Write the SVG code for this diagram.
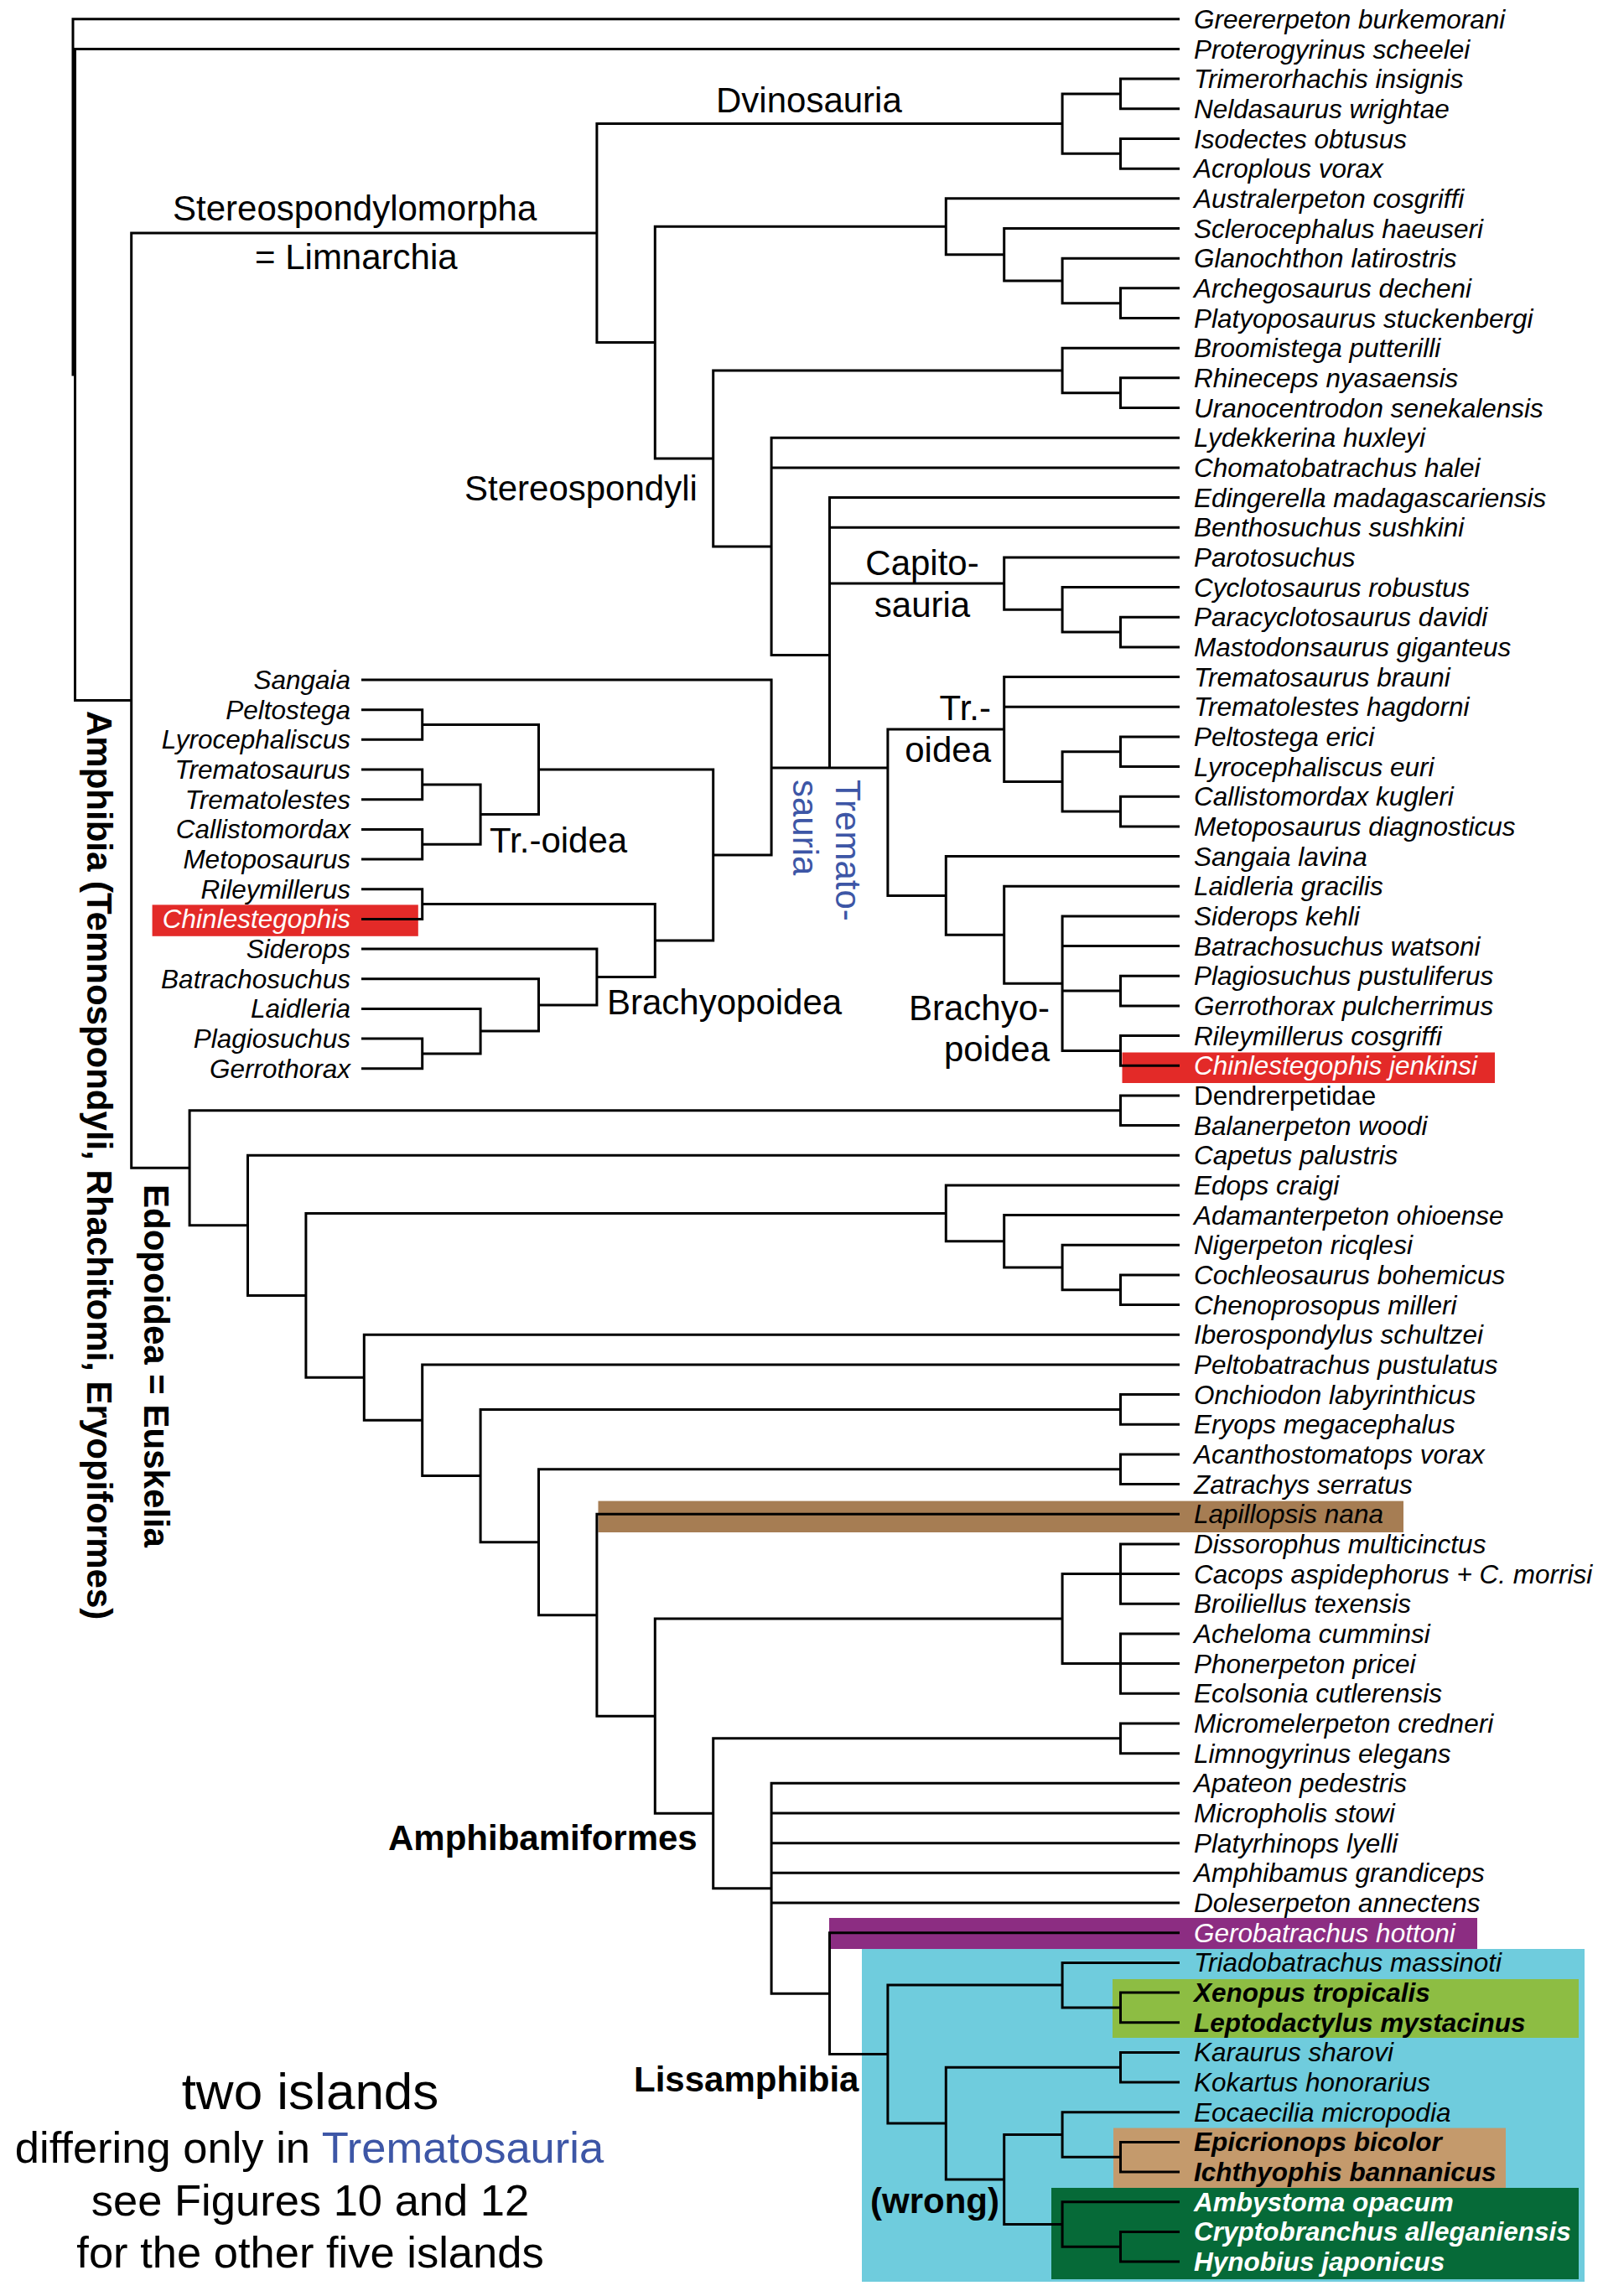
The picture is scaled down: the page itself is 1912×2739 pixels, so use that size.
<svg xmlns="http://www.w3.org/2000/svg" width="1912" height="2739" viewBox="0 0 1912 2739">
<style>
.ln{fill:none;stroke:#000;stroke-width:3;stroke-linejoin:miter;stroke-linecap:butt}
.tx{font-family:"Liberation Sans",Arial,sans-serif;font-size:31.5px;font-style:italic;fill:#000}
.ix{font-family:"Liberation Sans",Arial,sans-serif;font-size:31.5px;font-style:italic;fill:#000;text-anchor:end}
.up{font-style:normal}
.bi{font-weight:bold}
.wt{fill:#fff}
.cl{font-family:"Liberation Sans",Arial,sans-serif;font-size:42px;fill:#000}
.bd{font-weight:bold}
.blue{fill:#3D56A6}
.end{text-anchor:end}
.mid{text-anchor:middle}
.cap{font-family:"Liberation Sans",Arial,sans-serif;font-size:52.5px;fill:#000;text-anchor:middle}
</style>
<rect width="1912" height="2739" fill="#fff"/>
<g id="highlights">
<rect x="1028" y="2325" width="862" height="397" fill="#6FCCDD"/>
<rect x="1327" y="2361" width="556" height="70" fill="#8DBD43"/>
<rect x="1328" y="2538.6" width="468" height="72.4" fill="#C49A6C"/>
<rect x="1254" y="2610" width="629" height="109" fill="#066A38"/>
<rect x="989" y="2288" width="773" height="37" fill="#8C2D82"/>
<rect x="1338.5" y="1255.5" width="444.5" height="36.5" fill="#E32A28"/>
<rect x="181.6" y="1079.4" width="317.2" height="37.4" fill="#E32A28"/>
<rect x="713.5" y="1790.6" width="960.5" height="37.4" fill="#A67D53"/>
</g>
<g id="connectors" class="ln">
<path d="M1407,22.8 H87 V447 H89.5"/>
<path d="M1407,58.5 H89.5 V835.6 H156.7"/>
<path d="M711.9,278.1 H156.7 V1393.3 H226.1"/>
<path d="M1267.1,147.6 H711.9 V408.6 H781.3"/>
<path d="M1336.5,112 H1267.1 V183.3 H1336.5"/>
<path d="M1407,94.1 H1336.5 V129.8 H1407"/>
<path d="M1407,165.5 H1336.5 V201.2 H1407"/>
<path d="M1128.3,270.3 H781.3 V546.9 H850.7"/>
<path d="M1407,236.8 H1128.3 V303.7 H1197.7"/>
<path d="M1407,272.5 H1197.7 V334.9 H1267.1"/>
<path d="M1407,308.2 H1267.1 V361.7 H1336.5"/>
<path d="M1407,343.8 H1336.5 V379.5 H1407"/>
<path d="M1267.1,441.9 H850.7 V651.9 H920.1"/>
<path d="M1407,415.2 H1267.1 V468.7 H1336.5"/>
<path d="M1407,450.8 H1336.5 V486.5 H1407"/>
<path d="M1407,522.2 H920.1 V781.5 H989.5 M920.1,557.9 H1407"/>
<path d="M1407,593.5 H989.5 V916 M989.5,629.2 H1407 M989.5,696.1 H1197.7"/>
<path d="M1407,664.9 H1197.7 V727.3 H1267.1"/>
<path d="M1407,700.5 H1267.1 V754 H1336.5"/>
<path d="M1407,736.2 H1336.5 V771.9 H1407"/>
<path d="M920.1,916 H1058.9"/>
<path d="M1197.7,870 H1058.9 V1068.4 H1128.3"/>
<path d="M1407,807.5 H1197.7 V932.4 H1267.1 M1197.7,843.2 H1407"/>
<path d="M1336.5,896.7 H1267.1 V968.1 H1336.5"/>
<path d="M1407,878.9 H1336.5 V914.6 H1407"/>
<path d="M1407,950.2 H1336.5 V985.9 H1407"/>
<path d="M1407,1021.6 H1128.3 V1115.2 H1197.7"/>
<path d="M1407,1057.2 H1197.7 V1173.2 H1267.1"/>
<path d="M1407,1092.9 H1267.1 V1253.4 H1336.5 M1267.1,1128.6 H1407 M1267.1,1182.1 H1336.5"/>
<path d="M1407,1164.2 H1336.5 V1199.9 H1407"/>
<path d="M1407,1235.6 H1336.5 V1271.3 H1407"/>
<path d="M1336.5,1324.8 H226.1 V1461.8 H295.5"/>
<path d="M1407,1306.9 H1336.5 V1342.6 H1407"/>
<path d="M1407,1378.3 H295.5 V1545.4 H364.9"/>
<path d="M1128.3,1447.4 H364.9 V1643.3 H434.3"/>
<path d="M1407,1413.9 H1128.3 V1480.8 H1197.7"/>
<path d="M1407,1449.6 H1197.7 V1512 H1267.1"/>
<path d="M1407,1485.3 H1267.1 V1538.8 H1336.5"/>
<path d="M1407,1520.9 H1336.5 V1556.6 H1407"/>
<path d="M1407,1592.3 H434.3 V1694.3 H503.7"/>
<path d="M1407,1628 H503.7 V1760.6 H573.1"/>
<path d="M1336.5,1681.5 H573.1 V1839.8 H642.5"/>
<path d="M1407,1663.6 H1336.5 V1699.3 H1407"/>
<path d="M1336.5,1752.8 H642.5 V1926.8 H711.9"/>
<path d="M1407,1735 H1336.5 V1770.6 H1407"/>
<path d="M1407,1806.3 H711.9 V2047.2 H781.3"/>
<path d="M1267.1,1931.1 H781.3 V2163.3 H850.7"/>
<path d="M1336.5,1877.6 H1267.1 V1984.6 H1336.5"/>
<path d="M1407,1842 H1336.5 V1913.3 H1407 M1336.5,1877.6 H1407"/>
<path d="M1407,1949 H1336.5 V2020.3 H1407 M1336.5,1984.6 H1407"/>
<path d="M1336.5,2073.8 H850.7 V2252.7 H920.1"/>
<path d="M1407,2056 H1336.5 V2091.7 H1407"/>
<path d="M1407,2127.3 H920.1 V2378.2 H989.5 M920.1,2163 H1407 M920.1,2198.7 H1407 M920.1,2234.3 H1407 M920.1,2270 H1407"/>
<path d="M1407,2305.7 H989.5 V2450.6 H1058.9"/>
<path d="M1267.1,2368.1 H1058.9 V2533.1 H1128.3"/>
<path d="M1407,2341.4 H1267.1 V2394.9 H1336.5"/>
<path d="M1407,2377 H1336.5 V2412.7 H1407"/>
<path d="M1336.5,2466.2 H1128.3 V2600 H1197.7"/>
<path d="M1407,2448.4 H1336.5 V2484 H1407"/>
<path d="M1267.1,2546.5 H1197.7 V2653.5 H1267.1"/>
<path d="M1407,2519.7 H1267.1 V2573.2 H1336.5"/>
<path d="M1407,2555.4 H1336.5 V2591 H1407"/>
<path d="M1407,2626.7 H1267.1 V2680.2 H1336.5"/>
<path d="M1407,2662.4 H1336.5 V2698.1 H1407"/>
<path d="M431,811 H920.1 V1020 H850.7"/>
<path d="M431,846.7 H503.7 V882.3 H431"/>
<path d="M431,918 H503.7 V953.7 H431"/>
<path d="M431,989.4 H503.7 V1025 H431"/>
<path d="M503.7,935.9 H573.1 V1007.2 H503.7"/>
<path d="M503.7,864.5 H642.5 V971.5 H573.1"/>
<path d="M642.5,918 H850.7 V1122 H781.3"/>
<path d="M431,1060.7 H503.7 V1096.4 H431"/>
<path d="M503.7,1078.5 H781.3 V1165.5 H711.9"/>
<path d="M431,1132 H711.9 V1198.9 H642.5"/>
<path d="M431,1167.7 H642.5 V1230.1 H573.1"/>
<path d="M431,1203.4 H573.1 V1256.9 H503.7"/>
<path d="M431,1239 H503.7 V1274.7 H431"/>
</g>
<g id="taxa">
<g id="t0"><text class="tx" x="1424" y="33.8">Greererpeton burkemorani</text></g>
<g id="t1"><text class="tx" x="1424" y="69.5">Proterogyrinus scheelei</text></g>
<g id="t2"><text class="tx" x="1424" y="105.1">Trimerorhachis insignis</text></g>
<g id="t3"><text class="tx" x="1424" y="140.8">Neldasaurus wrightae</text></g>
<g id="t4"><text class="tx" x="1424" y="176.5">Isodectes obtusus</text></g>
<g id="t5"><text class="tx" x="1424" y="212.2">Acroplous vorax</text></g>
<g id="t6"><text class="tx" x="1424" y="247.8">Australerpeton cosgriffi</text></g>
<g id="t7"><text class="tx" x="1424" y="283.5">Sclerocephalus haeuseri</text></g>
<g id="t8"><text class="tx" x="1424" y="319.2">Glanochthon latirostris</text></g>
<g id="t9"><text class="tx" x="1424" y="354.8">Archegosaurus decheni</text></g>
<g id="t10"><text class="tx" x="1424" y="390.5">Platyoposaurus stuckenbergi</text></g>
<g id="t11"><text class="tx" x="1424" y="426.2">Broomistega putterilli</text></g>
<g id="t12"><text class="tx" x="1424" y="461.8">Rhineceps nyasaensis</text></g>
<g id="t13"><text class="tx" x="1424" y="497.5">Uranocentrodon senekalensis</text></g>
<g id="t14"><text class="tx" x="1424" y="533.2">Lydekkerina huxleyi</text></g>
<g id="t15"><text class="tx" x="1424" y="568.9">Chomatobatrachus halei</text></g>
<g id="t16"><text class="tx" x="1424" y="604.5">Edingerella madagascariensis</text></g>
<g id="t17"><text class="tx" x="1424" y="640.2">Benthosuchus sushkini</text></g>
<g id="t18"><text class="tx" x="1424" y="675.9">Parotosuchus</text></g>
<g id="t19"><text class="tx" x="1424" y="711.5">Cyclotosaurus robustus</text></g>
<g id="t20"><text class="tx" x="1424" y="747.2">Paracyclotosaurus davidi</text></g>
<g id="t21"><text class="tx" x="1424" y="782.9">Mastodonsaurus giganteus</text></g>
<g id="t22"><text class="tx" x="1424" y="818.5">Trematosaurus brauni</text></g>
<g id="t23"><text class="tx" x="1424" y="854.2">Trematolestes hagdorni</text></g>
<g id="t24"><text class="tx" x="1424" y="889.9">Peltostega erici</text></g>
<g id="t25"><text class="tx" x="1424" y="925.6">Lyrocephaliscus euri</text></g>
<g id="t26"><text class="tx" x="1424" y="961.2">Callistomordax kugleri</text></g>
<g id="t27"><text class="tx" x="1424" y="996.9">Metoposaurus diagnosticus</text></g>
<g id="t28"><text class="tx" x="1424" y="1032.6">Sangaia lavina</text></g>
<g id="t29"><text class="tx" x="1424" y="1068.2">Laidleria gracilis</text></g>
<g id="t30"><text class="tx" x="1424" y="1103.9">Siderops kehli</text></g>
<g id="t31"><text class="tx" x="1424" y="1139.6">Batrachosuchus watsoni</text></g>
<g id="t32"><text class="tx" x="1424" y="1175.2">Plagiosuchus pustuliferus</text></g>
<g id="t33"><text class="tx" x="1424" y="1210.9">Gerrothorax pulcherrimus</text></g>
<g id="t34"><text class="tx" x="1424" y="1246.6">Rileymillerus cosgriffi</text></g>
<g id="t35"><text class="tx wt" x="1424" y="1282.3">Chinlestegophis jenkinsi</text></g>
<g id="t36"><text class="tx up" x="1424" y="1317.9">Dendrerpetidae</text></g>
<g id="t37"><text class="tx" x="1424" y="1353.6">Balanerpeton woodi</text></g>
<g id="t38"><text class="tx" x="1424" y="1389.3">Capetus palustris</text></g>
<g id="t39"><text class="tx" x="1424" y="1424.9">Edops craigi</text></g>
<g id="t40"><text class="tx" x="1424" y="1460.6">Adamanterpeton ohioense</text></g>
<g id="t41"><text class="tx" x="1424" y="1496.3">Nigerpeton ricqlesi</text></g>
<g id="t42"><text class="tx" x="1424" y="1531.9">Cochleosaurus bohemicus</text></g>
<g id="t43"><text class="tx" x="1424" y="1567.6">Chenoprosopus milleri</text></g>
<g id="t44"><text class="tx" x="1424" y="1603.3">Iberospondylus schultzei</text></g>
<g id="t45"><text class="tx" x="1424" y="1639">Peltobatrachus pustulatus</text></g>
<g id="t46"><text class="tx" x="1424" y="1674.6">Onchiodon labyrinthicus</text></g>
<g id="t47"><text class="tx" x="1424" y="1710.3">Eryops megacephalus</text></g>
<g id="t48"><text class="tx" x="1424" y="1746">Acanthostomatops vorax</text></g>
<g id="t49"><text class="tx" x="1424" y="1781.6">Zatrachys serratus</text></g>
<g id="t50"><text class="tx" x="1424" y="1817.3">Lapillopsis nana</text></g>
<g id="t51"><text class="tx" x="1424" y="1853">Dissorophus multicinctus</text></g>
<g id="t52"><text class="tx" x="1424" y="1888.6">Cacops aspidephorus + C. morrisi</text></g>
<g id="t53"><text class="tx" x="1424" y="1924.3">Broiliellus texensis</text></g>
<g id="t54"><text class="tx" x="1424" y="1960">Acheloma cumminsi</text></g>
<g id="t55"><text class="tx" x="1424" y="1995.7">Phonerpeton pricei</text></g>
<g id="t56"><text class="tx" x="1424" y="2031.3">Ecolsonia cutlerensis</text></g>
<g id="t57"><text class="tx" x="1424" y="2067">Micromelerpeton credneri</text></g>
<g id="t58"><text class="tx" x="1424" y="2102.7">Limnogyrinus elegans</text></g>
<g id="t59"><text class="tx" x="1424" y="2138.3">Apateon pedestris</text></g>
<g id="t60"><text class="tx" x="1424" y="2174">Micropholis stowi</text></g>
<g id="t61"><text class="tx" x="1424" y="2209.7">Platyrhinops lyelli</text></g>
<g id="t62"><text class="tx" x="1424" y="2245.3">Amphibamus grandiceps</text></g>
<g id="t63"><text class="tx" x="1424" y="2281">Doleserpeton annectens</text></g>
<g id="t64"><text class="tx wt" x="1424" y="2316.7">Gerobatrachus hottoni</text></g>
<g id="t65"><text class="tx" x="1424" y="2352.4">Triadobatrachus massinoti</text></g>
<g id="t66"><text class="tx bi" x="1424" y="2388">Xenopus tropicalis</text></g>
<g id="t67"><text class="tx bi" x="1424" y="2423.7">Leptodactylus mystacinus</text></g>
<g id="t68"><text class="tx" x="1424" y="2459.4">Karaurus sharovi</text></g>
<g id="t69"><text class="tx" x="1424" y="2495">Kokartus honorarius</text></g>
<g id="t70"><text class="tx" x="1424" y="2530.7">Eocaecilia micropodia</text></g>
<g id="t71"><text class="tx bi" x="1424" y="2566.4">Epicrionops bicolor</text></g>
<g id="t72"><text class="tx bi" x="1424" y="2602">Ichthyophis bannanicus</text></g>
<g id="t73"><text class="tx bi wt" x="1424" y="2637.7">Ambystoma opacum</text></g>
<g id="t74"><text class="tx bi wt" x="1424" y="2673.4">Cryptobranchus alleganiensis</text></g>
<g id="t75"><text class="tx bi wt" x="1424" y="2709.1">Hynobius japonicus</text></g>
</g>
<g id="inset-taxa">
<g id="i0"><text class="ix" x="418" y="822">Sangaia</text></g>
<g id="i1"><text class="ix" x="418" y="857.7">Peltostega</text></g>
<g id="i2"><text class="ix" x="418" y="893.3">Lyrocephaliscus</text></g>
<g id="i3"><text class="ix" x="418" y="929">Trematosaurus</text></g>
<g id="i4"><text class="ix" x="418" y="964.7">Trematolestes</text></g>
<g id="i5"><text class="ix" x="418" y="1000.4">Callistomordax</text></g>
<g id="i6"><text class="ix" x="418" y="1036">Metoposaurus</text></g>
<g id="i7"><text class="ix" x="418" y="1071.7">Rileymillerus</text></g>
<g id="i8"><text class="ix wt" x="418" y="1107.4">Chinlestegophis</text></g>
<g id="i9"><text class="ix" x="418" y="1143">Siderops</text></g>
<g id="i10"><text class="ix" x="418" y="1178.7">Batrachosuchus</text></g>
<g id="i11"><text class="ix" x="418" y="1214.4">Laidleria</text></g>
<g id="i12"><text class="ix" x="418" y="1250">Plagiosuchus</text></g>
<g id="i13"><text class="ix" x="418" y="1285.7">Gerrothorax</text></g>
</g>
<g id="clade-labels">
<g id="c-dvino"><text class="cl" x="854" y="134">Dvinosauria</text></g>
<g id="c-stereomorpha"><text class="cl" x="206" y="263">Stereospondylomorpha</text><text class="cl" x="304" y="321">= Limnarchia</text></g>
<g id="c-stereospondyli"><text class="cl" x="554" y="597">Stereospondyli</text></g>
<g id="c-capito"><text class="cl mid" x="1100" y="686">Capito-</text><text class="cl mid" x="1100" y="736">sauria</text></g>
<g id="c-troidea"><text class="cl end" x="1182" y="859">Tr.-</text><text class="cl end" x="1182" y="909">oidea</text></g>
<g id="c-brachyo"><text class="cl end" x="1252" y="1217">Brachyo-</text><text class="cl end" x="1252" y="1266">poidea</text></g>
<g id="c-trematosauria"><text class="cl blue" transform="translate(997,930) rotate(90)">Tremato-</text><text class="cl blue" transform="translate(946,930) rotate(90)">sauria</text></g>
<g id="c-troidea-inset"><text class="cl" x="584" y="1017">Tr.-oidea</text></g>
<g id="c-brachyo-inset"><text class="cl" x="724" y="1210">Brachyopoidea</text></g>
<g id="c-amphibia"><text class="cl bd" transform="translate(104,848) rotate(90)">Amphibia (Temnospondyli, Rhachitomi, Eryopiformes)</text></g>
<g id="c-edopoidea"><text class="cl bd" transform="translate(172,1413) rotate(90)">Edopoidea = Euskelia</text></g>
<g id="c-amphibamiformes"><text class="cl bd" x="463" y="2207">Amphibamiformes</text></g>
<g id="c-lissamphibia"><text class="cl bd" x="756" y="2495">Lissamphibia</text></g>
<g id="c-wrong"><text class="cl bd" x="1038" y="2640">(wrong)</text></g>
</g>
<g id="caption">
<text class="cap" x="370" y="2516" style="font-size:62px">two islands</text>
<text class="cap" x="369" y="2580">differing only in <tspan class="blue">Trematosauria</tspan></text>
<text class="cap" x="370" y="2643">see Figures 10 and 12</text>
<text class="cap" x="370" y="2705">for the other five islands</text>
</g>
</svg>
